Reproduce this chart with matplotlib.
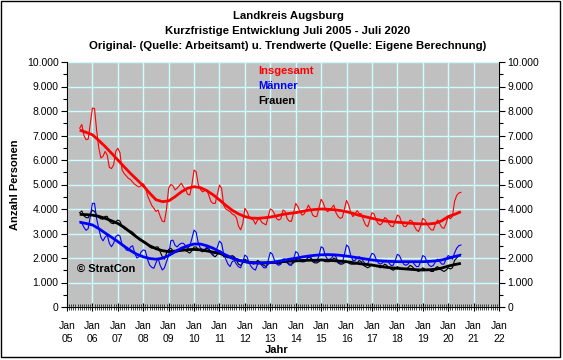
import numpy as np
import matplotlib.pyplot as plt
from matplotlib.ticker import FixedLocator, MultipleLocator, FuncFormatter
from matplotlib.patches import Rectangle

plt.rcParams['font.family'] = ['Liberation Sans', 'DejaVu Sans']

# Monatswerte Juli 2005 - Juli 2020 (Originalwerte)
insgesamt = [
    7300, 7450, 7000, 6830, 6850, 7500,
    8120, 8100, 7200, 6500, 6080, 6150, 6350, 6200, 5700, 5650, 5800, 6350,
    6480, 6300, 5600, 5450, 5350, 5250, 5200, 5100, 5000, 4950, 4900, 4950,
    5030, 4900, 4550, 4350, 4150, 4030, 3900, 3960, 3700, 3500, 3480, 4000,
    4850, 5000, 4950, 4780, 4850, 4950, 5050, 4900, 4780, 4600, 4570, 5000,
    5590, 5520, 5000, 4800, 4700, 4750, 4780, 4550, 4300, 4230, 4230, 4600,
    4980, 4840, 4150, 4000, 3950, 3890, 3800, 3750, 3650, 3300, 3150, 3400,
    4030, 3900, 3680, 3600, 3550, 3380, 3550, 3600, 3450, 3400, 3350, 3700,
    4000, 3950, 3800, 3600, 3550, 3600, 3960, 3900, 3600, 3500, 3500, 3850,
    4230, 4100, 3900, 3750, 3800, 3950, 4160, 4000, 3750, 3690, 3700, 4050,
    4400, 4250, 4000, 3890, 3950, 4050, 4160, 3850, 3700, 3620, 3650, 4000,
    4350, 4160, 3850, 3690, 3800, 3930, 3820, 3800, 3550, 3350, 3280, 3550,
    3850, 3800, 3550, 3400, 3350, 3450, 3650, 3600, 3400, 3300, 3280, 3500,
    3750, 3700, 3450, 3300, 3280, 3400, 3550, 3500, 3300, 3150, 3080, 3300,
    3620, 3550, 3400, 3250, 3150, 3140, 3400, 3550, 3400, 3250, 3210, 3400,
    3700, 3600, 3700, 4300, 4550, 4650, 4680,
]
maenner = [
    3480, 3420, 3250, 3130, 3200, 3700,
    4230, 4230, 3600, 3200, 2850, 2700, 2850, 2940, 2600, 2460, 2600, 2870,
    2940, 2900, 2550, 2460, 2330, 2300, 2450, 2500, 2200, 2000, 2050, 2250,
    2330, 2300, 1950, 1710, 1620, 1580, 1800, 1990, 1700, 1510, 1600, 1850,
    2100, 2700, 2730, 2520, 2450, 2550, 2600, 2600, 2500, 2400, 2500, 2800,
    3140, 3050, 2600, 2400, 2350, 2350, 2450, 2400, 2200, 2150, 2200, 2450,
    2690, 2600, 2150, 1950, 1750, 1650, 1850, 1900, 1750, 1640, 1600, 1850,
    2120, 2050, 1800, 1650, 1550, 1510, 1750, 1800, 1700, 1600, 1600, 1900,
    2230, 2150, 1900, 1750, 1700, 1750, 1950, 1950, 1800, 1710, 1700, 1950,
    2260, 2200, 1950, 1850, 1850, 1900, 2100, 2050, 1900, 1850, 1850, 2100,
    2460, 2400, 2100, 1950, 1950, 2000, 2150, 2050, 1850, 1780, 1800, 2150,
    2530, 2450, 2100, 1900, 1900, 2000, 2050, 2000, 1850, 1750, 1750, 2000,
    2190, 2150, 1950, 1800, 1750, 1800, 1900, 1900, 1800, 1700, 1700, 1900,
    2150, 2100, 1900, 1750, 1700, 1750, 1850, 1850, 1750, 1650, 1650, 1850,
    2100, 2050, 1850, 1700, 1650, 1700, 1850, 1950, 1850, 1750, 1750, 1950,
    2100, 2050, 1950, 2200, 2400, 2500, 2530,
]
frauen = [
    3850, 3920, 3720, 3650, 3640, 3800,
    3950, 3900, 3750, 3650, 3600, 3580, 3700, 3700, 3500, 3420, 3400, 3480,
    3550, 3500, 3300, 3200, 3150, 3100, 3100, 3050, 2950, 2850, 2750, 2700,
    2700, 2650, 2550, 2450, 2400, 2400, 2450, 2450, 2250, 2050, 1950, 2200,
    2350, 2400, 2300, 2250, 2250, 2300, 2400, 2400, 2300, 2250, 2200, 2300,
    2450, 2450, 2350, 2300, 2250, 2300, 2400, 2350, 2200, 2100, 2050, 2150,
    2300, 2250, 2050, 2050, 2000, 2050, 2100, 2050, 1900, 1750, 1700, 1800,
    1950, 1900, 1800, 1800, 1750, 1800, 1900, 1850, 1750, 1700, 1650, 1750,
    1850, 1850, 1800, 1800, 1750, 1800, 1950, 1950, 1800, 1750, 1750, 1800,
    1950, 1900, 1850, 1850, 1850, 1900, 2050, 2000, 1850, 1800, 1800, 1850,
    1950, 1900, 1850, 1850, 1850, 1900, 2000, 1950, 1800, 1750, 1750, 1800,
    1850, 1800, 1750, 1750, 1750, 1800, 1900, 1850, 1700, 1650, 1600, 1650,
    1750, 1700, 1650, 1650, 1600, 1650, 1750, 1700, 1600, 1550, 1500, 1550,
    1650, 1600, 1550, 1550, 1550, 1600, 1700, 1650, 1550, 1500, 1450, 1500,
    1600, 1550, 1500, 1500, 1450, 1450, 1600, 1650, 1550, 1500, 1450, 1500,
    1600, 1550, 1600, 1900, 2000, 2100, 2150,
]

# Trendwerte, vierteljaehrlich (Jan/Apr/Jul/Okt), Juli 2005 - Juli 2020
trend_insgesamt = [
    7220, 7130,
    7030, 6800, 6550, 6280, 6000, 5720, 5450, 5200, 4950, 4650, 4380, 4300,
    4330, 4500, 4700, 4850, 4910, 4870, 4750, 4580, 4370, 4150, 3950, 3800,
    3690, 3630, 3620, 3640, 3670, 3720, 3780, 3820, 3850, 3900, 3950, 3980,
    4000, 3990, 3970, 3940, 3890, 3820, 3740, 3680, 3620, 3560, 3510, 3480,
    3460, 3440, 3420, 3400, 3390, 3390, 3420, 3520, 3690, 3780, 3890,
]
trend_maenner = [
    3460, 3410,
    3350, 3200, 3020, 2850, 2670, 2480, 2300, 2150, 2050, 1980, 1950, 1990,
    2100, 2250, 2400, 2500, 2570, 2570, 2500, 2400, 2260, 2120, 2000, 1910,
    1850, 1810, 1800, 1800, 1810, 1850, 1900, 1950, 1990, 2040, 2080, 2110,
    2130, 2140, 2130, 2110, 2080, 2040, 2000, 1960, 1920, 1890, 1870, 1860,
    1850, 1850, 1850, 1850, 1850, 1860, 1880, 1920, 1990, 2060, 2120,
]
trend_frauen = [
    3780, 3770,
    3750, 3700, 3620, 3520, 3410, 3250, 3050, 2850, 2670, 2500, 2380, 2300,
    2260, 2280, 2310, 2340, 2350, 2330, 2290, 2240, 2190, 2100, 2000, 1910,
    1850, 1810, 1800, 1800, 1810, 1830, 1850, 1870, 1880, 1900, 1910, 1910,
    1920, 1910, 1890, 1870, 1850, 1810, 1770, 1740, 1710, 1670, 1630, 1600,
    1580, 1560, 1540, 1520, 1510, 1520, 1540, 1590, 1670, 1730, 1780,
]

jahre = list(range(2005, 2023))
x_monat = 2005.5 + np.arange(len(insgesamt)) / 12
x_quartal = 2005.5 + np.arange(len(trend_insgesamt)) / 4

W, H = 563, 360
fig = plt.figure(figsize=(W / 100, H / 100), dpi=100)
fig.patch.set_facecolor('white')
ax = fig.add_axes([67 / W, 1 - 307 / H, (499 - 67) / W, (307 - 62) / H])
ax.set_facecolor('#C0C0C0')

grid_c = '#CCFFFF'
ax.set_axisbelow(True)
ax.grid(which='major', color=grid_c, lw=1.0)

for raw, tr, c in [(frauen, trend_frauen, 'black'),
                   (maenner, trend_maenner, '#0000FF'),
                   (insgesamt, trend_insgesamt, '#FF0000')]:
    ax.plot(x_monat, raw, color=c, lw=0.8, zorder=3)
    ax.plot(x_quartal, tr, color=c, lw=2.0, zorder=4, solid_capstyle='butt')

ax.set_xlim(2005, 2022)
ax.set_ylim(0, 10000)

ax.xaxis.set_major_locator(FixedLocator(jahre))
ax.xaxis.set_minor_locator(MultipleLocator(1 / 12))
ax.set_xticklabels([f"Jan\n{j % 100:02d}" for j in jahre])
ax.yaxis.set_major_locator(MultipleLocator(1000))
ax.yaxis.set_minor_locator(MultipleLocator(500))
ax.yaxis.set_major_formatter(FuncFormatter(lambda v, p: f"{int(v):,}".replace(",", ".")))

ax.tick_params(axis='y', which='both', direction='out', left=True, right=True,
               labelleft=True, labelright=True, labelsize=7.5, width=0.8, pad=2)
ax.tick_params(axis='y', which='major', length=4)
ax.tick_params(axis='y', which='minor', length=3)
ax.tick_params(axis='x', which='major', direction='inout', length=6, width=0.8,
               labelsize=7.5, pad=7)
ax.tick_params(axis='x', which='minor', direction='inout', length=4, width=0.5)
for lab in ax.get_xticklabels():
    lab.set_linespacing(1.45)

ax.spines['top'].set_visible(False)
for s in ('left', 'right', 'bottom'):
    ax.spines[s].set_color('black')
    ax.spines[s].set_linewidth(0.8)

ax.set_ylabel("Anzahl Personen", fontsize=8, fontweight='bold', labelpad=5)
fig.text(277 / W, 1 - 350 / H, "Jahr", fontsize=8, fontweight='bold',
         ha='center', va='center')

titel = ["Landkreis Augsburg",
         "Kurzfristige Entwicklung Juli 2005 - Juli 2020",
         "Original- (Quelle: Arbeitsamt) u. Trendwerte (Quelle: Eigene Berechnung)"]
for i, t in enumerate(titel):
    fig.text(288 / W, 1 - (16 + 15 * i) / H, t, fontsize=8.2, fontweight='bold',
             ha='center', va='center')

legende = [("Insgesamt", '#FF0000'), ("Männer", '#0000FF'), ("Frauen", 'black')]
for i, (t, c) in enumerate(legende):
    fig.text(258 / W, 1 - (71 + 15 * i) / H, t, fontsize=8, fontweight='bold',
             color=c, ha='left', va='center')

fig.text(77 / W, 1 - 269 / H, "© StratCon", fontsize=8, fontweight='bold',
         ha='left', va='center')

fig.patches.append(Rectangle((1 / W, 3 / H), 559 / W, 356 / H, fill=False,
                             edgecolor='black', lw=1, transform=fig.transFigure))

fig.savefig("out.png", dpi=100, facecolor='white')
